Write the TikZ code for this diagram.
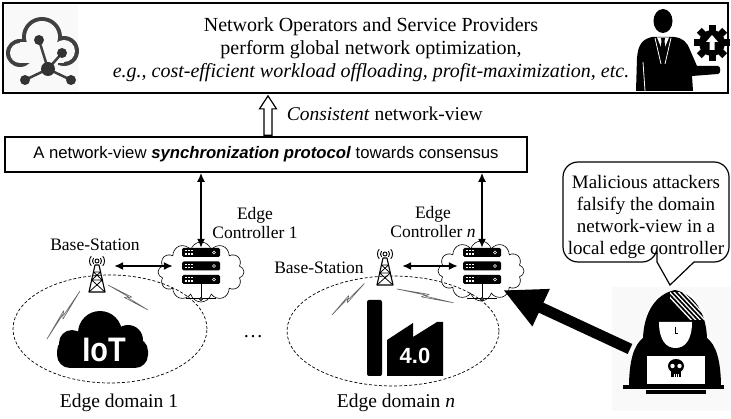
\documentclass[tikz,border=0pt]{standalone}
\usepackage{fontspec}
\setmainfont{Liberation Serif}
\newfontfamily\arialfont{Liberation Sans}
\usetikzlibrary{arrows.meta,shapes.symbols,shapes.geometric,calc}

\tikzset{
  pics/antenna/.style={code={
    \draw[line width=0.9pt] (0,0) circle (2);
    \foreach \r in {4.5,7.5} {
      \draw[line width=0.9pt] (140:\r) arc[start angle=140, end angle=220, radius=\r];
      \draw[line width=0.9pt] (-40:\r) arc[start angle=-40, end angle=40, radius=\r];
    }
    \draw[line width=1.1pt, line join=round] (-2,4) -- (2,4) -- (8,31) -- (-8,31) -- cycle;
    \draw[line width=0.8pt] (-3.56,11) -- (3.56,11) (-5.33,19) -- (5.33,19)
      (-3.56,11) -- (5.33,19) (3.56,11) -- (-5.33,19)
      (-5.33,19) -- (8,31) (5.33,19) -- (-8,31);
    \node[minimum width=18pt, minimum height=28pt, inner sep=0pt] (-tw) at (0,17.5) {};
  }},
  pics/server/.style={code={
    \foreach \dy in {-13.5,0,13.5} {
      \fill[black, rounded corners=1.5pt] (-19,\dy-4.5) rectangle (19,\dy+4.5);
      \foreach \gx in {-15,-12,-9}
        \foreach \gy in {-1.6,1.6}
          \fill[white] (\gx-0.9,\dy+\gy-0.6) rectangle (\gx+0.9,\dy+\gy+0.6);
      \draw[white, line width=0.6pt] (13,\dy) circle (1.5);
    }
    \draw[line width=1pt] (0,18) -- (0,33) (-15,33) -- (15,33);
    \draw[line width=0.8pt, fill=white] (0,33) circle (1.5);
    \node[minimum width=38pt, minimum height=36pt, inner sep=0pt] (-rack) at (0,0) {};
  }},
  pics/bolt/.style={code={
    \draw[draw=black!60, fill=white, line width=0.6pt, line join=round]
      (0,0) -- (0.56*#1,-3.6) -- (0.50*#1,-0.9) -- (#1,-2.2)
      -- (0.44*#1,0.9) -- (0.50*#1,-2) -- cycle;
  }}
}

\begin{document}
\begin{tikzpicture}[x=1pt,y=-1pt,
  lbl/.style={font=\fontsize{17.5}{19}\selectfont, inner sep=0pt, align=center},
  big/.style={font=\fontsize{20}{23}\selectfont, inner sep=0pt, align=center},
  dblarrow/.style={line width=1.6pt, {Latex[length=9pt,width=8pt]}-{Latex[length=9pt,width=8pt]}},
  edgedomain/.style={ellipse, draw, dash pattern=on 3pt off 2pt, line width=0.7pt, inner sep=0pt},
  ctrlcloud/.style={cloud, cloud puffs=12, aspect=1.45, draw, line width=0.6pt,
    minimum width=86pt, minimum height=60pt, inner sep=0pt}
]
\useasboundingbox (0,0) rectangle (731,419);

% ---------- operators box ----------
\fill[gray!5] (5,5) rectangle (78,91);
\node[draw, line width=1.8pt, minimum width=725pt, minimum height=90pt, inner sep=0pt] (top) at (365.5,48) {};
\node[big] (toptext) at (371,50) {Network Operators and Service Providers\\
  perform global network optimization,\\
  \textit{e.g., cost-efficient workload offloading, profit-maximization, etc.}};

% cloud with a small network: outline ring of three lobes, open at the bottom
\fill[black!75] (20,53) circle (14);
\fill[black!75] (42,37) circle (20);
\fill[black!75] (64,51) circle (15);
\fill[gray!5] (20,53) circle (10);
\fill[gray!5] (42,37) circle (16);
\fill[gray!5] (64,51) circle (11);
\fill[gray!5] (20,42) rectangle (64,63);
\fill[gray!5] (4,67) rectangle (79,91);
\fill[gray!5] (36,60) rectangle (58,68);
\draw[black!75, line width=2.5pt] (48,69) -- (39,40) (48,69) -- (62,53) (48,69) -- (25,80) (48,69) -- (71,80);
\fill[black!80] (48,69) circle (7);
\fill[black!80] (39,40) circle (5);
\fill[black!80] (62,53) circle (5);
\fill[black!80] (25,80) circle (5);
\fill[black!80] (71,80) circle (5);

% manager with a gear
\fill (663,21) ellipse (9.5 and 12);
\fill (652,37) -- (674,37) .. controls (683,38) and (687,42) .. (690,50) -- (697,66) -- (718,66)
  .. controls (721,66) and (721,74) .. (718,74) -- (692,76) -- (693,91) -- (636,91) -- (637,58)
  .. controls (638,44) and (643,39) .. (652,37) -- cycle;
\fill[white] (657,37.5) -- (669,37.5) -- (663,52) -- cycle;
\fill (661,38) -- (665,38) -- (664.5,41) -- (666.5,57) -- (663,62) -- (659.5,57) -- (661.5,41) -- cycle;
\draw[white, line width=0.8pt] (655,38) -- (661,64) (671,38) -- (665,64) (643,62) -- (645,91);
\begin{scope}[shift={(712,43)}]
  \fill (0,0) circle (13);
  \foreach \a in {0,45,...,315} \fill[rotate=\a] (-3.5,-11) rectangle (3.5,-18);
  \fill[white] (0,-8) -- (6,-1) -- (2.5,-1) -- (2.5,7) -- (-2.5,7) -- (-2.5,-1) -- (-6,-1) -- cycle;
\end{scope}

% ---------- synchronization protocol ----------
\node[draw, line width=1.6pt, minimum width=522pt, minimum height=35pt, inner sep=0pt,
  font=\arialfont\fontsize{16.7}{20}\selectfont] (proto) at (266,154.5)
  {A network-view \textbf{\textit{synchronization protocol}} towards consensus};

\coordinate (hb) at (proto.north -| 268,0);
\coordinate (ht) at (top.south -| 268,0);
\draw[line width=1.2pt, fill=white, line join=miter]
  ($(hb)+(-4,-1)$) -- ($(ht)+(-4,15)$) -- ($(ht)+(-8.5,15)$) -- ($(ht)+(0,2)$)
  -- ($(ht)+(8.5,15)$) -- ($(ht)+(4,15)$) -- ($(hb)+(4,-1)$) -- cycle;
\node[font=\fontsize{19.5}{22}\selectfont, inner sep=0pt, anchor=east] (cons) at (483,114)
  {\textit{Consistent} network-view};

% ---------- edge domains ----------
\node[edgedomain, minimum width=194pt, minimum height=108pt] (dom1) at (110,329) {};
\node[edgedomain, minimum width=212pt, minimum height=110pt] (domn) at (393,331) {};

\node[ctrlcloud] (cloud1) at (201,272) {};
\node[ctrlcloud] (cloudn) at (481,271) {};
\pic (srv1) at (201,266) {server};
\pic (srvn) at (482,266) {server};

\pic (ant1) at (97,261) {antenna};
\pic (antn) at (385,254) {antenna};

\node[lbl] (bs1) at (95,245) {Base-Station};
\node[lbl] (bsn) at (319,268) {Base-Station};
\node[lbl] (ec1) at (255,223) {Edge\\Controller 1};
\node[lbl] (ecn) at (433,222) {Edge\\Controller \textit{n}};

\draw[dblarrow] (proto.south -| srv1-rack.north) -- (srv1-rack.north);
\draw[dblarrow] (proto.south -| srvn-rack.north) -- (srvn-rack.north);
\draw[dblarrow, shorten <=8pt, shorten >=9pt] (ant1-tw.east |- srv1-rack.west) -- (srv1-rack.west);
\draw[dblarrow, shorten <=8pt, shorten >=5pt] (antn-tw.east |- srvn-rack.west) -- (srvn-rack.west);

% radio links
\pic[rotate=53.3] at (47,339) {bolt=58};
\pic[rotate=-34.7] at (108,285) {bolt=47};
\pic[rotate=41.4] at (332,315) {bolt=45};
\pic[rotate=-15.9] at (397,289) {bolt=58};

% IoT cloud
\fill (72,343) circle (13);
\fill (100,333) circle (22);
\fill (128,340) circle (15);
\fill[rounded corners=13pt] (57,338) rectangle (148,368);
\node[text=white, font=\arialfont\bfseries\fontsize{34}{34}\selectfont, inner sep=0pt] (iot) at (104,350)
  {\scalebox{0.85}[1]{IoT}};

% Industry 4.0 factory
\fill[rounded corners=2pt] (367,300) rectangle (382,376);
\fill (387,376) -- (387,340) -- (413,323) -- (413,337) -- (437,322) -- (443,322) -- (443,376) -- cycle;
\node[text=white, font=\arialfont\bfseries\fontsize{22}{22}\selectfont, inner sep=0pt] (ind) at (415,356) {4.0};

\node[big, anchor=base] (dots) at (253,338) {\dots};
\node[font=\fontsize{19.5}{22}\selectfont, inner sep=0pt] (d1) at (119,403) {Edge domain 1};
\node[font=\fontsize{19.5}{22}\selectfont, inner sep=0pt] (dn) at (396,403) {Edge domain \textit{n}};

% ---------- attacker ----------
\draw[line width=1.2pt, fill=white] (657,262) -- (670,285) -- (694,262) [rounded corners=15pt]
  -- (729,262) -- (729,162) -- (563,162) -- (563,262) -- (657,262) [sharp corners] -- cycle;
\node[font=\fontsize{19}{21.7}\selectfont, align=center, inner sep=0pt] (warn) at (646,217)
  {Malicious attackers\\falsify the domain\\network-view in a\\local edge controller};

\fill[gray!5] (612,287) rectangle (731,411);
\coordinate (hackarm) at (630,349);
\coordinate (hacktip) at ($(cloudn.center)+(22,19)$);
\draw[line width=11pt, -{Triangle[length=42pt,width=38pt]}] (hackarm) -- (hacktip);

\fill (675,290) .. controls (694,294) and (706,312) .. (707,338)
  .. controls (716,345) and (721,360) .. (721,388) -- (629,388)
  .. controls (629,360) and (634,345) .. (643,338)
  .. controls (644,312) and (656,294) .. (675,290) -- cycle;
\begin{scope}
  \clip (670,293) rectangle (705,320);
  \foreach \k in {0,...,5}
    \draw[white, line width=1.3pt] (664+4.5*\k,291) -- (694+4.5*\k,323);
\end{scope}
\fill[white] (659,322) -- (692,322) .. controls (692,340) and (685,348) .. (675.5,348)
  .. controls (666,348) and (659,340) .. (659,322) -- cycle;
\draw[line width=0.8pt] (675,327) -- (675,333) -- (678,333);
\draw[line width=3.5pt, fill=white] (645,354) rectangle (707,386);
\draw[line width=3.5pt] (623,387) -- (724,387);
\fill (646,390) rectangle (706,394);
\fill (676,366) ellipse (8 and 7);
\fill (671,369) rectangle (681,377);
\fill[white] (672.5,366) circle (2.2);
\fill[white] (679.5,366) circle (2.2);
\draw[white, line width=0.6pt] (674,374) -- (674,377) (676,374) -- (676,377) (678,374) -- (678,377);
\node[minimum width=95pt, minimum height=100pt, inner sep=0pt] (hacker) at (675,340) {};
\end{tikzpicture}
\end{document}
